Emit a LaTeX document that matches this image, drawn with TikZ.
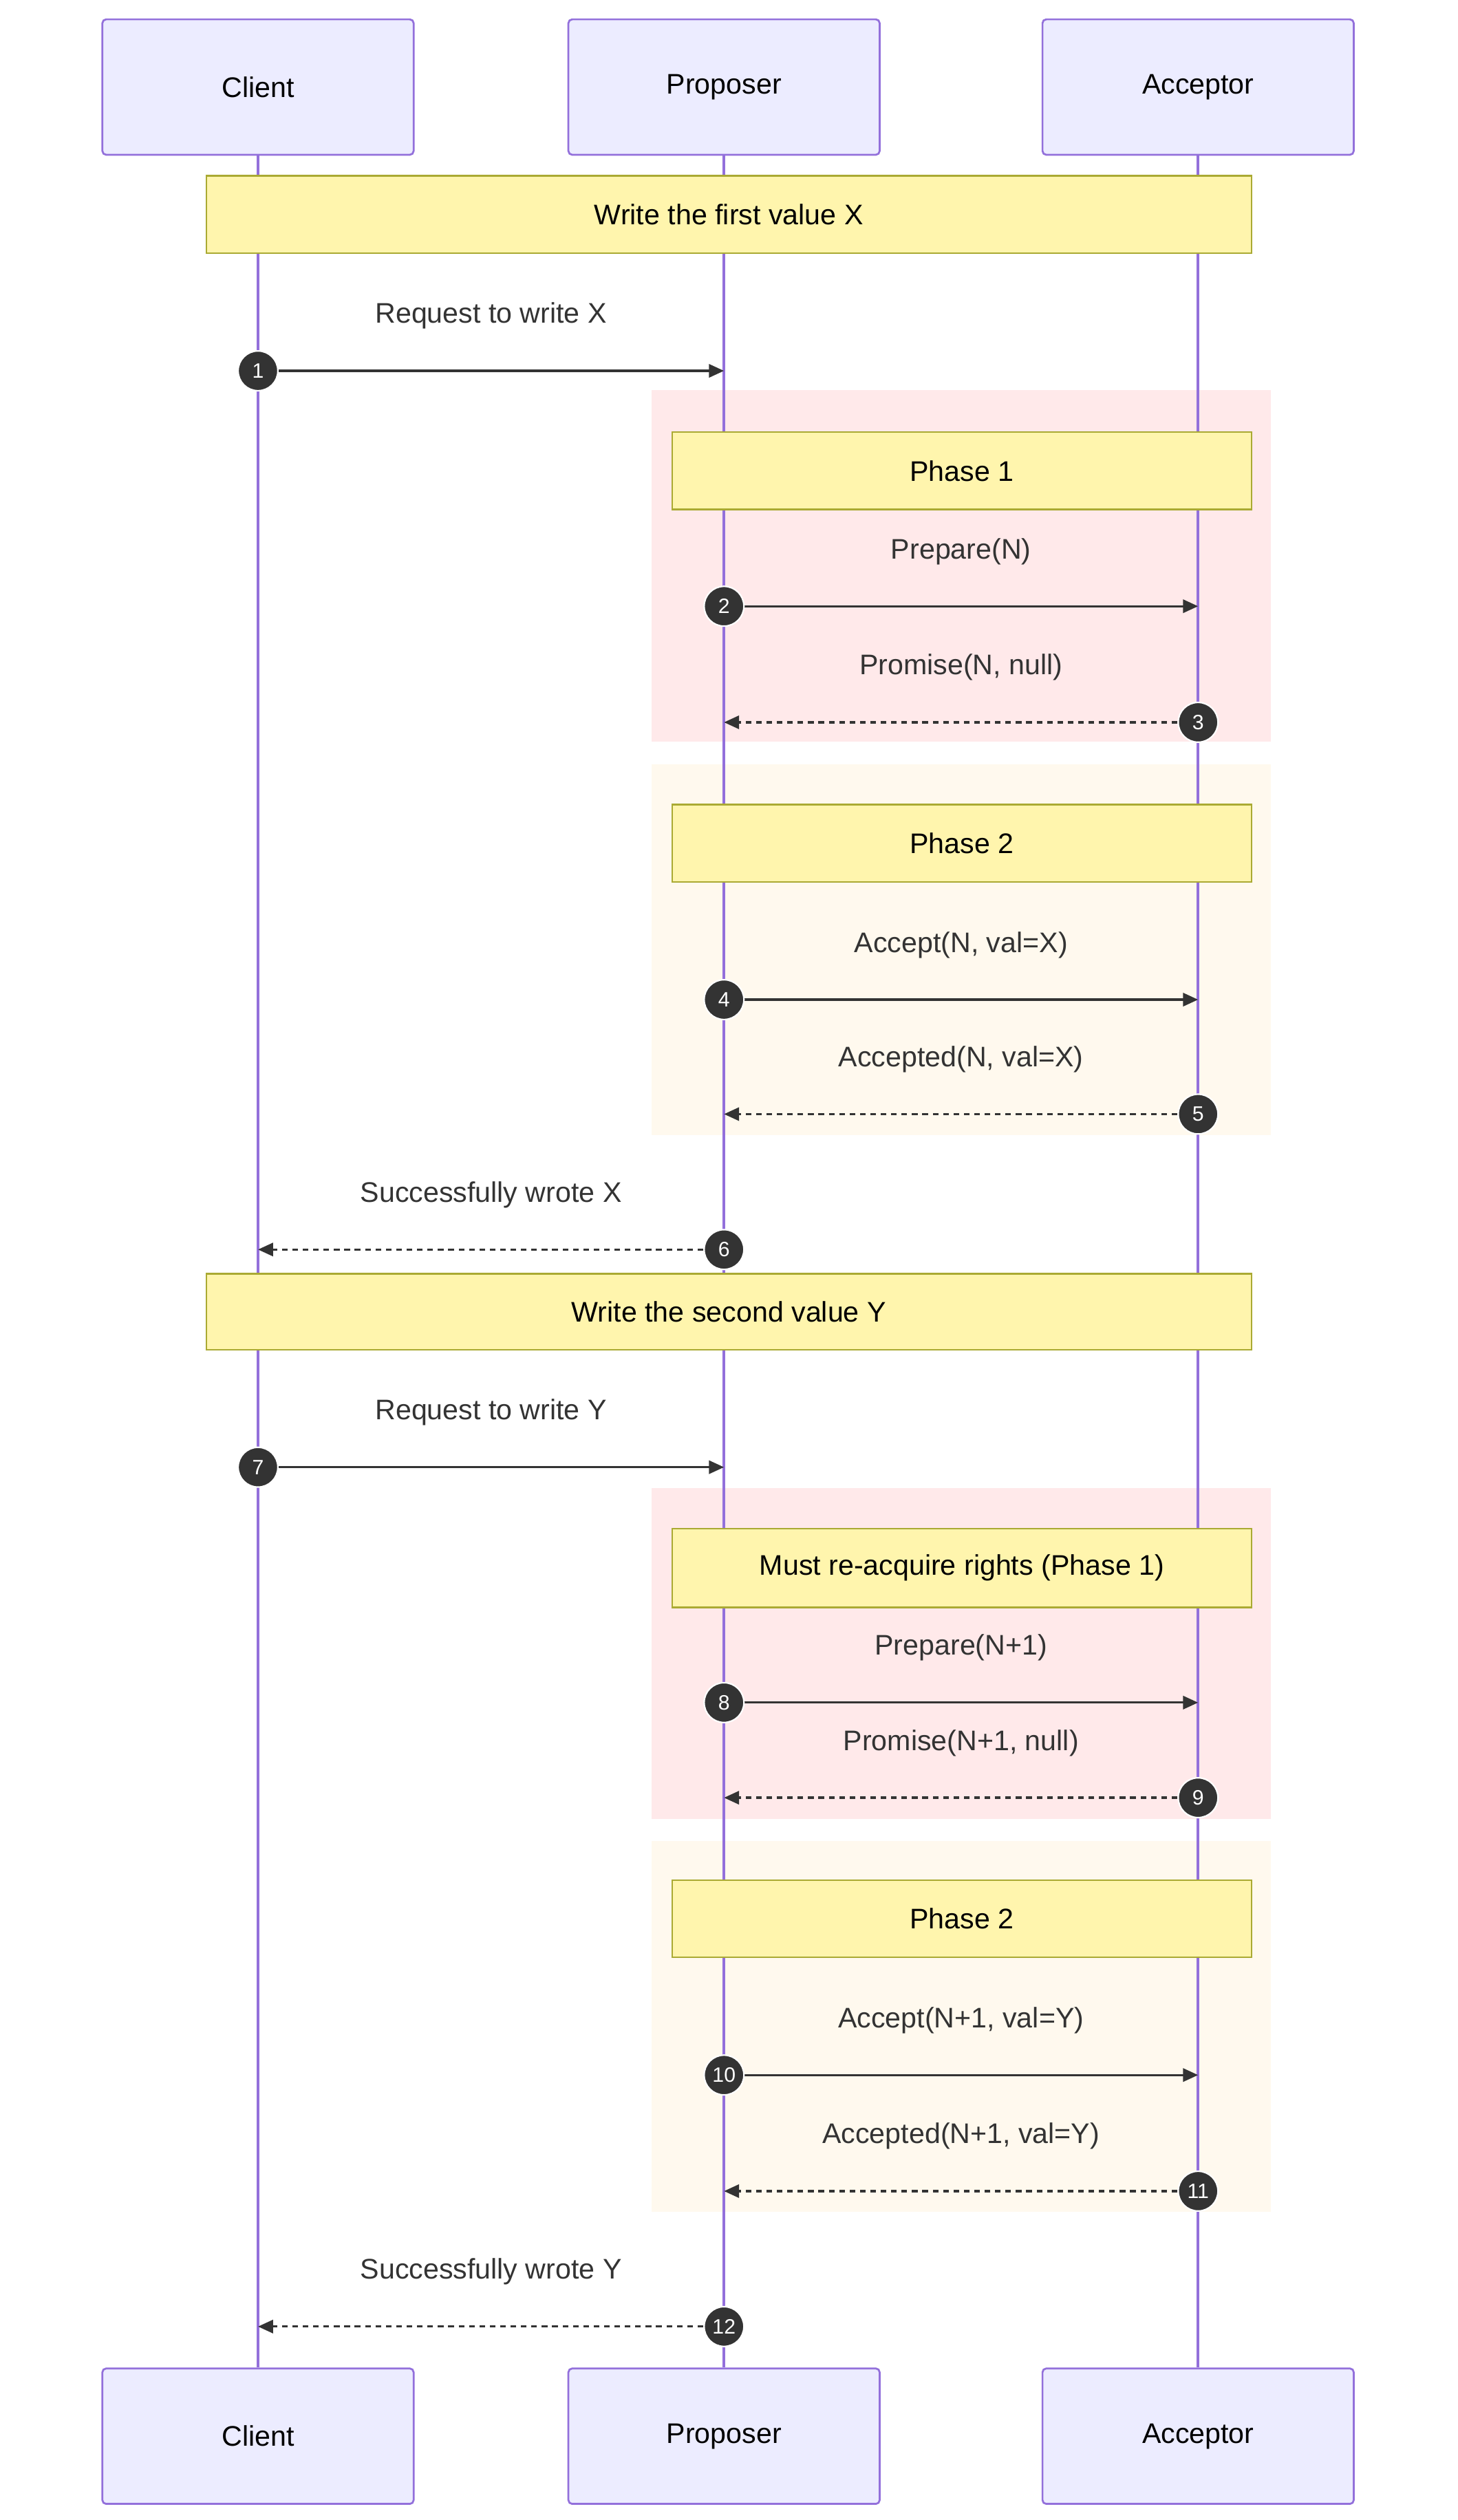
\documentclass[tikz,border=0pt]{standalone}
\usepackage{fontspec}
\setmainfont{Liberation Sans}
\usetikzlibrary{arrows.meta}
\definecolor{actfill}{HTML}{ECECFF}
\definecolor{actline}{HTML}{9370DB}
\definecolor{notefill}{HTML}{FFF5AD}
\definecolor{noteline}{HTML}{AAAA33}
\definecolor{pinkbg}{HTML}{FFE9EA}
\definecolor{creambg}{HTML}{FFF9EE}
\definecolor{ink}{HTML}{333333}
\tikzset{
  actor/.style={draw=actline, fill=actfill, line width=1pt, rounded corners=2pt,
    minimum width=5.79cm, minimum height=2.52cm, font=\fontsize{15}{18}\selectfont},
  note/.style={draw=noteline, fill=notefill, line width=0.8pt,
    font=\fontsize{15}{18}\selectfont},
  life/.style={actline, line width=1.6pt},
  msg/.style={ink, line width=1.2pt, -{Triangle[length=8pt,width=7pt]}},
  reply/.style={msg, dash pattern=on 3pt off 2.5pt},
  lbl/.style={text=ink, font=\fontsize{15}{18}\selectfont},
  badge/.style={circle, fill=ink, draw=white, line width=0.8pt, text=white,
    minimum size=0.74cm, inner sep=0pt, font=\fontsize{11}{12}\selectfont}
}
\begin{document}
\begin{tikzpicture}[x=0.03cm, y=-0.03cm]
  \useasboundingbox (0,0) rectangle (904,1563);
  % phase backgrounds
  \fill[pinkbg] (404,242) rectangle (788,460);
  \fill[creambg] (404,474) rectangle (788,704);
  \fill[pinkbg] (404,923) rectangle (788,1128);
  \fill[creambg] (404,1142) rectangle (788,1372);
  % actors
  \foreach \name/\x/\txt in {C/160/Client, P/449/Proposer, A/743/Acceptor}{
    \node[actor] (\name top) at (\x,54) {\txt};
    \node[actor] (\name bot) at (\x,1511) {\txt};
    \draw[life] (\name top.south) -- (\name bot.north);
  }
  % notes
  \node[note, minimum width=19.44cm, minimum height=1.44cm] (n1) at (452,133) {Write the first value X};
  \node[note, minimum width=10.77cm, minimum height=1.44cm] (n2) at (596.5,292) {Phase 1};
  \node[note, minimum width=10.77cm, minimum height=1.44cm] (n3) at (596.5,523) {Phase 2};
  \node[note, minimum width=19.44cm, minimum height=1.41cm] (n4) at (452,813.5) {Write the second value Y};
  \node[note, minimum width=10.77cm, minimum height=1.47cm] (n5) at (596.5,972.5) {Must re-acquire rights (Phase 1)};
  \node[note, minimum width=10.77cm, minimum height=1.44cm] (n6) at (596.5,1190) {Phase 2};
  % messages
  \foreach \n/\y/\sx/\tx/\lab/\st in {
      1/230/160/449/{Request to write X}/msg,
      2/376/449/743/{Prepare(N)}/msg,
      3/448/743/449/{Promise(N, null)}/reply,
      4/620/449/743/{Accept(N, val=X)}/msg,
      5/691/743/449/{Accepted(N, val=X)}/reply,
      6/775/449/160/{Successfully wrote X}/reply,
      7/910/160/449/{Request to write Y}/msg,
      8/1056/449/743/{Prepare(N+1)}/msg,
      9/1115/743/449/{Promise(N+1, null)}/reply,
      10/1287/449/743/{Accept(N+1, val=Y)}/msg,
      11/1359/743/449/{Accepted(N+1, val=Y)}/reply,
      12/1443/449/160/{Successfully wrote Y}/reply}{
    \coordinate (s\n) at (\sx,\y);
    \coordinate (t\n) at (\tx,\y);
    \draw[\st] (s\n) -- (t\n);
    \node[lbl] (l\n) at ({(\sx+\tx)/2},\y-34) {\lab};
    \node[badge] (b\n) at (s\n) {\n};
  }
\end{tikzpicture}
\end{document}
